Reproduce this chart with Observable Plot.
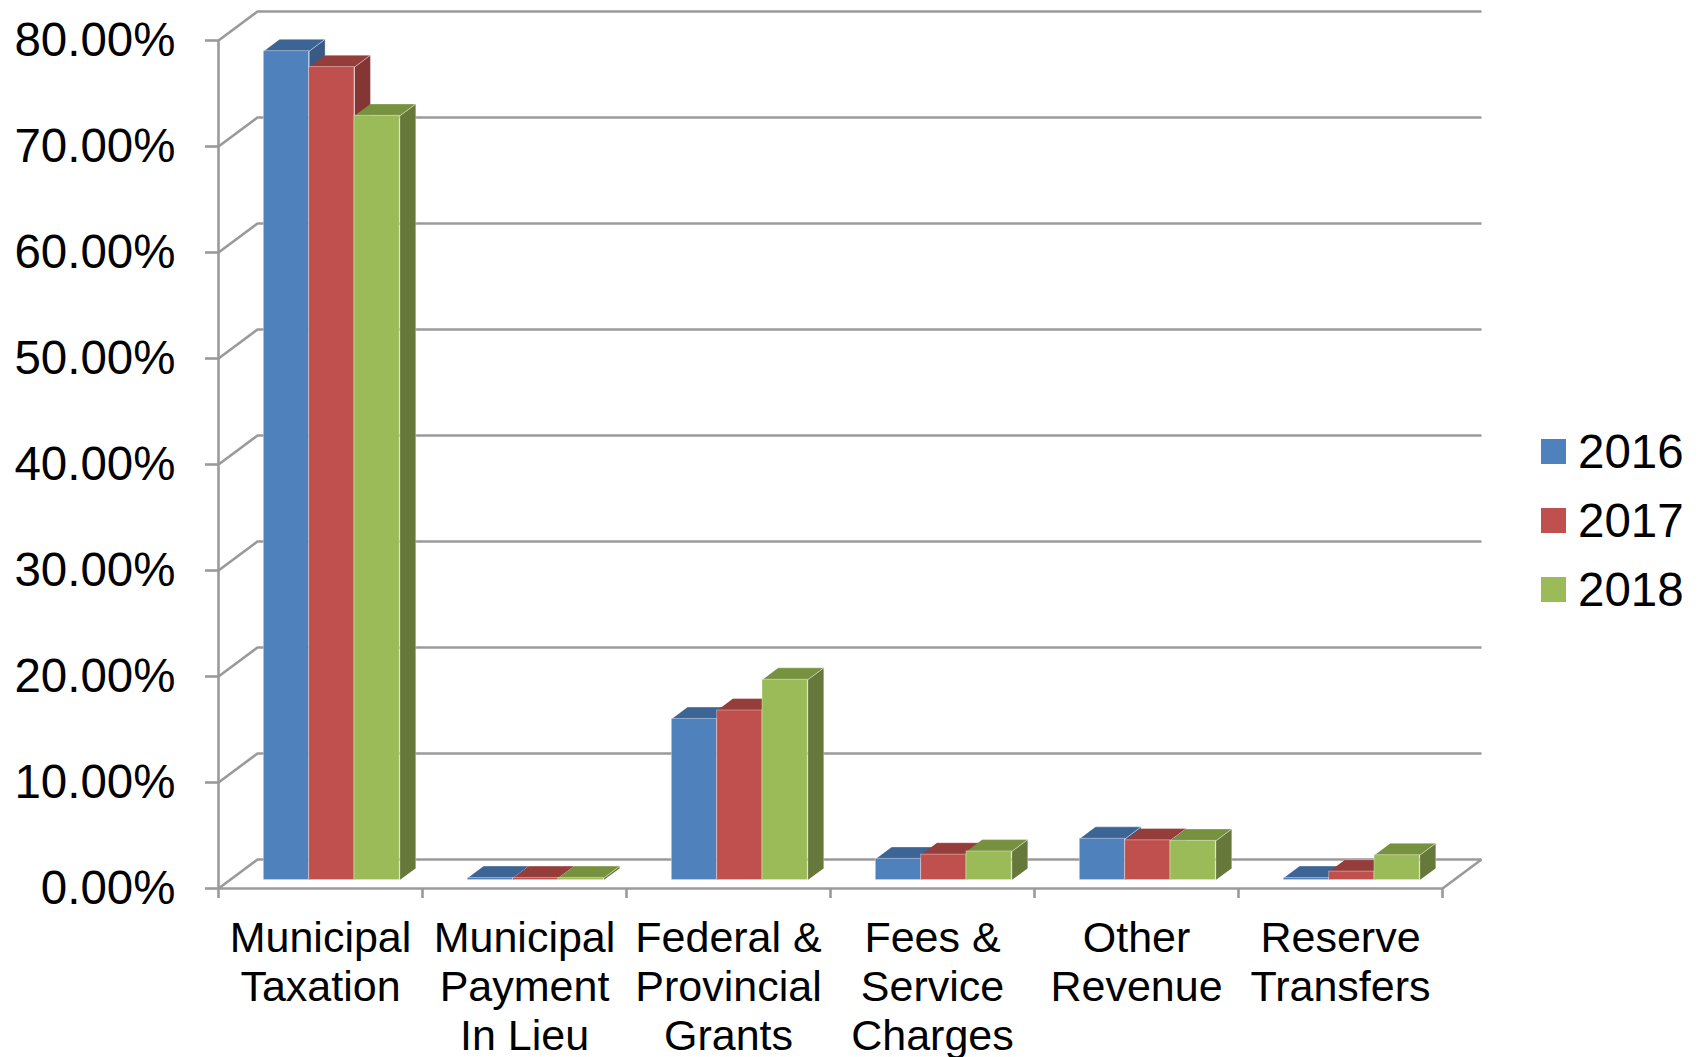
<!DOCTYPE html>
<html>
<head>
<meta charset="utf-8">
<script src="https://cdn.jsdelivr.net/npm/d3@7"></script>
<script src="https://cdn.jsdelivr.net/npm/@observablehq/plot@0.6"></script>
<style>
  body { margin: 0; background: #ffffff; font-family: "Liberation Sans", Arial, sans-serif; }
  #chart { position: relative; width: 1699px; height: 1057px; }
  #legend { position: absolute; left: 1541px; top: 439px; }
  .row { display: flex; align-items: center; height: 69px; margin-top: -22px; }
  .row + .row { margin-top: 0; }
  .sw { width: 25px; height: 25px; margin-right: 12px; }
  .lab { font-size: 47.5px; line-height: 47px; color: #000; }
</style>
</head>
<body>
<div id="chart"></div>
<script>
// Revenue share by source, three budget years (percent of total)
const categories = [
  "Municipal\nTaxation",
  "Municipal\nPayment\nIn Lieu",
  "Federal &\nProvincial\nGrants",
  "Fees &\nService\nCharges",
  "Other\nRevenue",
  "Reserve\nTransfers"
];
const years = ["2016", "2017", "2018"];
const values2016 = [78.2, 0.2, 15.2, 2.0, 3.9, 0.2];
const values2017 = [76.7, 0.2, 16.0, 2.4, 3.75, 0.8];
const values2018 = [72.1, 0.2, 18.9, 2.7, 3.7, 2.35];
const yTicks = [0, 10, 20, 30, 40, 50, 60, 70, 80];

// Face colours: front, top (shaded) and right side (darker)
const frontColors = ["#4F81BD", "#C0504D", "#9BBB59"];
const topColors   = ["#3C6494", "#943D3B", "#77923F"];
const sideColors  = ["#375A87", "#833634", "#66793A"];
const gridColor = "#9a9a9a";

// Oblique depth of the floor/walls, expressed in scale units
const WALL_DX = 39 / 204;   // category units
const WALL_DY = 2.74;       // percentage points
const BAR_D0 = 0.29, BAR_D1 = 0.70;  // bar front/back as fraction of depth
const GAP = 1 / 3;                   // gap between clusters (category units)
const BAR_W = (1 - GAP) / years.length;

const series = [values2016, values2017, values2018];
const P = (x, v, d) => ({x: x + d * WALL_DX, y: v + d * WALL_DY});

const fronts = [], tops = years.map(() => []), sides = years.map(() => []);
series.forEach((vals, s) => {
  vals.forEach((v, c) => {
    const x0 = c + GAP / 2 + s * BAR_W, x1 = x0 + BAR_W;
    const id = `${s}-${c}`;
    fronts.push({
      s, x1: x0 + BAR_D0 * WALL_DX, x2: x1 + BAR_D0 * WALL_DX,
      y1: BAR_D0 * WALL_DY, y2: v + BAR_D0 * WALL_DY
    });
    [P(x0, v, BAR_D0), P(x1, v, BAR_D0), P(x1, v, BAR_D1), P(x0, v, BAR_D1)]
      .forEach(p => tops[s].push({...p, id}));
    [P(x1, 0, BAR_D0), P(x1, v, BAR_D0), P(x1, v, BAR_D1), P(x1, 0, BAR_D1)]
      .forEach(p => sides[s].push({...p, id}));
  });
});
// order fronts left to right so neighbours overlap correctly
fronts.sort((a, b) => a.x1 - b.x1);

const n = categories.length;
// Gridlines: left-wall diagonal then the back-wall horizontal
const grid = [];
yTicks.forEach(v => {
  [P(0, v, 0), P(0, v, 1), P(n, v, 1)].forEach(p => grid.push({...p, v}));
});
// Front and right edges of the floor
const floorEdge = [P(0, 0, 0), P(n, 0, 0), P(n, 0, 1)];

const faceStroke = {stroke: "#ffffff", strokeOpacity: 0.35, strokeWidth: 1};

const marks = [
  Plot.line(grid, {x: "x", y: "y", z: "v", stroke: gridColor, strokeWidth: 2.6, strokeLinecap: "butt"}),
  Plot.line(floorEdge, {x: "x", y: "y", stroke: gridColor, strokeWidth: 2.6, strokeLinecap: "butt"}),
  Plot.ruleX([0], {y1: 0, y2: yTicks[yTicks.length - 1], stroke: gridColor, strokeWidth: 2.6}),
  Plot.axisY({
    ticks: yTicks, tickSize: 13, tickPadding: 30,
    tickFormat: d => d.toFixed(2) + "%",
    fontSize: 47.5, stroke: gridColor, strokeWidth: 2.6, fill: "#000", label: null
  }),
  Plot.axisX({
    ticks: d3.range(n + 1), tickSize: 10, tickFormat: () => "",
    stroke: gridColor, strokeWidth: 2.6, label: null
  }),
  ...years.map((y, s) => Plot.line(sides[s], {x: "x", y: "y", z: "id", fill: sideColors[s], ...faceStroke})),
  ...years.map((y, s) => Plot.line(tops[s], {x: "x", y: "y", z: "id", fill: topColors[s], ...faceStroke})),
  Plot.rect(fronts, {x1: "x1", x2: "x2", y1: "y1", y2: "y2", fill: d => frontColors[d.s], ...faceStroke}),
  Plot.text(categories, {
    x: (d, i) => i + 0.5, y: () => 0, text: d => d,
    lineAnchor: "top", dy: 29, fontSize: 43, lineHeight: 1.14, fill: "#000"
  })
];

const chart = Plot.plot({
  width: 1699,
  height: 1057,
  marginLeft: 218,
  marginRight: 257,
  marginTop: 40,
  marginBottom: 169,
  x: {type: "linear", domain: [0, n]},
  y: {type: "linear", domain: [0, yTicks[yTicks.length - 1]]},
  color: {type: "identity"},
  style: {fontFamily: "Liberation Sans, Arial, sans-serif", background: "#ffffff", color: "#000"},
  marks
});

const host = document.getElementById("chart");
host.appendChild(chart);

// Legend on the right
const legend = document.createElement("div");
legend.id = "legend";
years.forEach((y, s) => {
  const row = document.createElement("div");
  row.className = "row";
  const sw = document.createElement("div");
  sw.className = "sw";
  sw.style.background = frontColors[s];
  const lab = document.createElement("div");
  lab.className = "lab";
  lab.textContent = y;
  row.appendChild(sw);
  row.appendChild(lab);
  legend.appendChild(row);
});
host.appendChild(legend);
</script>
</body>
</html>
